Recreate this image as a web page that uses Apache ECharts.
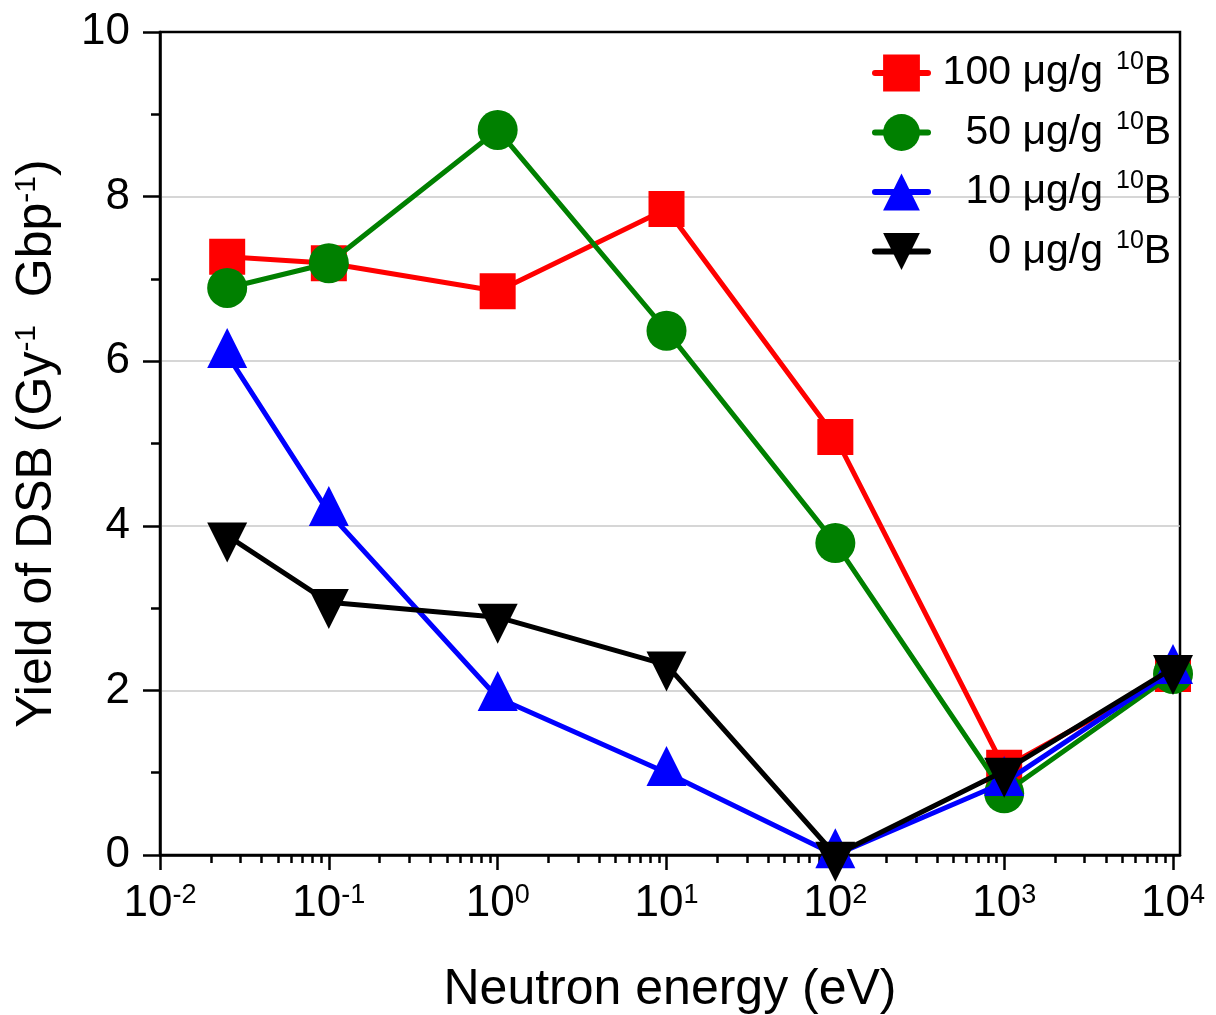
<!DOCTYPE html>
<html><head><meta charset="utf-8">
<script src="https://cdn.jsdelivr.net/npm/echarts@6/dist/echarts.min.js"></script>
<style>html,body{margin:0;padding:0;background:#fff}#c{width:1216px;height:1015px}</style>
</head><body><div id="c"></div>
<script>
// ---- data ----
const energies = [0.025, 0.1, 1, 10, 100, 1000, 10000];
const seriesNames = ['100 μg/g', '50 μg/g', '10 μg/g', '0 μg/g'];
const isotopeMass = '10';
const isotopeSymbol = 'B';
const yield100 = [7.27, 7.19, 6.85, 7.85, 5.08, 1.06, 2.20];
const yield50  = [6.89, 7.19, 8.81, 6.37, 3.79, 0.75, 2.20];
const yield10  = [6.08, 4.16, 1.91, 1.00, 0.00, 0.88, 2.24];
const yield0   = [3.88, 3.07, 2.89, 2.31, 0.00, 1.02, 2.27];
const xMajorTicks = [0.01, 0.1, 1, 10, 100, 1000, 10000];
const xTickExponents = ['-2', '-1', '0', '1', '2', '3', '4'];
const xMinorMultipliers = [2, 3, 4, 5, 6, 7, 8, 9];
const xAxisTitle = 'Neutron energy (eV)';
const yAxisTitleParts = ['Yield of DSB (Gy', '-1', '  Gbp', '-1', ')'];

const xMinorTicks = [];
xMajorTicks.slice(0, -1).forEach(d => xMinorMultipliers.forEach(m => xMinorTicks.push(+(d * m).toPrecision(6))));

const FONT = '"Liberation Sans", Arial, Helvetica, sans-serif';
const colors = ['#ff0000', '#008000', '#0000ff', '#000000'];
const values = [yield100, yield50, yield10, yield0];
const symbols = ['rect', 'circle', 'triangle', 'triangle'];
const symbolSizes = [36, 40, 40, 40];
const rotations = [0, 0, 0, 180];
const offsets = [[0, 0], [0, 0], [0, -6.7], [0, 6.7]];

const chart = echarts.init(document.getElementById('c'), null, {renderer: 'canvas'});

const series = seriesNames.map((name, k) => ({
  name,
  type: 'line',
  data: energies.map((e, i) => [e, values[k][i]]),
  symbol: symbols[k],
  symbolSize: symbolSizes[k],
  symbolRotate: rotations[k],
  symbolOffset: offsets[k],
  showAllSymbol: true,
  lineStyle: {color: colors[k], width: 5},
  itemStyle: {color: colors[k], borderWidth: 0},
  z: 2 + k,
  emphasis: {disabled: true}
}));

const tickLine = {color: '#000', width: 2.5};

chart.setOption({
  animation: false,
  backgroundColor: '#fff',
  grid: {left: 160, right: 36, top: 32, bottom: 160, outerBoundsMode: 'none', containLabel: false,
         show: true, borderColor: '#000', borderWidth: 2.5, backgroundColor: 'transparent'},
  legend: {
    orient: 'vertical', left: 872, top: 50, padding: 0,
    itemWidth: 53, itemHeight: 46, itemGap: 16, selectedMode: false,
    data: seriesNames,
    lineStyle: {width: 6, cap: 'round'},
    formatter: name => `{n|${name}}{s|${isotopeMass}}{b|${isotopeSymbol}}`,
    textStyle: {
      color: '#000', fontFamily: FONT,
      rich: {
        n: {fontSize: 41, lineHeight: 46, width: 170, align: 'right', fontFamily: FONT, color: '#000'},
        s: {fontSize: 25, lineHeight: 8, verticalAlign: 'top', align: 'right', padding: [0, 0, 0, 13], fontFamily: FONT, color: '#000'},
        b: {fontSize: 41, lineHeight: 46, align: 'right', fontFamily: FONT, color: '#000'}
      }
    }
  },
  xAxis: [{
    type: 'log', logBase: 10, min: 0.01, max: 11000, position: 'bottom',
    axisLine: {show: true, onZero: false, lineStyle: tickLine},
    axisTick: {show: true, inside: false, customValues: xMajorTicks, length: 15, lineStyle: tickLine},
    minorTick: {show: false},
    splitLine: {show: false},
    axisLabel: {
      customValues: xMajorTicks, margin: 27, color: '#000', fontFamily: FONT,
      formatter: v => {
        let idx = 0;
        xMajorTicks.forEach((t, i) => { if (Math.abs(Math.log10(v) - Math.log10(t)) < 1e-6) idx = i; });
        return `{b|10}{s|${xTickExponents[idx]}}`;
      },
      rich: {
        b: {fontSize: 44, lineHeight: 44, fontFamily: FONT, color: '#000'},
        s: {fontSize: 27, lineHeight: 14, verticalAlign: 'top', fontFamily: FONT, color: '#000'}
      }
    },
    name: xAxisTitle, nameLocation: 'middle', nameGap: 110,
    nameTextStyle: {fontSize: 50, fontFamily: FONT, color: '#000'}
  }, {
    type: 'log', logBase: 10, min: 0.01, max: 11000, position: 'bottom',
    axisLine: {show: false, onZero: false},
    axisTick: {show: true, inside: false, customValues: xMinorTicks, length: 8, lineStyle: tickLine},
    minorTick: {show: false},
    splitLine: {show: false},
    axisLabel: {show: false}
  }],
  yAxis: {
    type: 'value', min: 0, max: 10, interval: 2,
    axisLine: {show: true, lineStyle: tickLine},
    axisTick: {show: true, inside: false, length: 17, lineStyle: tickLine},
    minorTick: {show: true, splitNumber: 2, length: 9, lineStyle: tickLine},
    axisLabel: {fontSize: 44, color: '#000', margin: 30, fontFamily: FONT},
    splitLine: {show: true, showMinLine: false, showMaxLine: false, lineStyle: {color: '#c8c8c8', width: 1.5}},
    name: yAxisTitleParts.map((p, i) => i % 2 ? `{s|${p}}` : `{t|${p}}`).join(''),
    nameLocation: 'middle', nameGap: 98,
    nameTextStyle: {
      color: '#000', fontFamily: FONT,
      rich: {
        t: {fontSize: 50, lineHeight: 50, fontFamily: FONT, color: '#000'},
        s: {fontSize: 30, lineHeight: 18, verticalAlign: 'top', fontFamily: FONT, color: '#000'}
      }
    }
  },
  series
});
</script>
</body></html>
